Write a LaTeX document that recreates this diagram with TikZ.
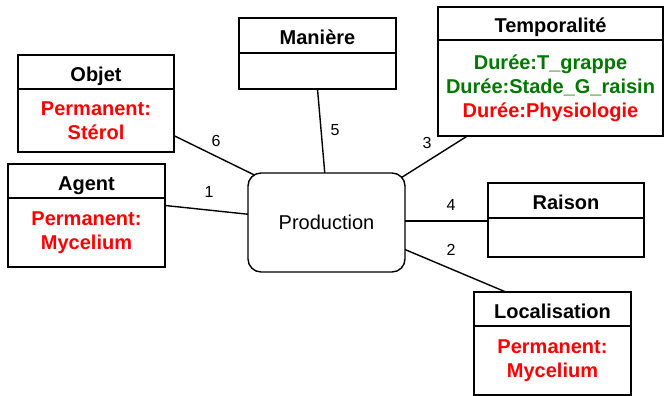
\documentclass[tikz,border=0pt]{standalone}
\usepackage{fontspec}
\setmainfont{Liberation Sans}
\usepackage{xcolor}
\usepackage{tikz}
\usetikzlibrary{positioning}
\definecolor{permred}{RGB}{255,0,0}
\definecolor{dureegreen}{RGB}{0,120,0}
\tikzset{
  box/.style={draw, line width=0.7pt, inner sep=0pt, outer sep=0pt, align=center},
  head/.style={box, text height=10.5pt, text depth=1.2pt, font=\bfseries\fontsize{10}{12}\selectfont},
  body/.style={box, font=\bfseries\fontsize{10}{12}\selectfont},
  link/.style={line width=0.7pt},
  lbl/.style={font=\fontsize{8}{10}\selectfont},
}

\begin{document}
\begin{tikzpicture}[x=0.5pt,y=0.5pt]
\useasboundingbox (0,0) rectangle (664,396);
% roles
\node[head, minimum width=78pt, minimum height=17pt] (objet) at (96,324) {Objet};
\node[body, minimum width=78pt, minimum height=31.5pt, below=0pt of objet, text=permred] (objetb) {Permanent:\\Stérol};
\node[head, minimum width=78.5pt, minimum height=17pt] (agent) at (86.5,215) {Agent};
\node[body, minimum width=78.5pt, minimum height=34.5pt, below=0pt of agent, text=permred] (agentb) {Permanent:\\Mycelium};
\node[head, minimum width=78.5pt, minimum height=17.5pt] (maniere) at (317.5,360.5) {Manière};
\node[body, minimum width=78.5pt, minimum height=18pt, below=0pt of maniere] (maniereb) {};
\node[head, minimum width=112.5pt, minimum height=16.5pt] (temp) at (550.5,372.5) {Temporalité};
\node[body, minimum width=112.5pt, minimum height=48pt, below=0pt of temp] (tempb)
  {\textcolor{dureegreen}{Durée:T\_grappe}\\\textcolor{dureegreen}{Durée:Stade\_G\_raisin}\\\textcolor{permred}{Durée:Physiologie}};
\node[head, minimum width=78pt, minimum height=17.5pt] (raison) at (566,195.5) {Raison};
\node[body, minimum width=78pt, minimum height=19.5pt, below=0pt of raison] (raisonb) {};
\node[head, minimum width=78.5pt, minimum height=17pt] (loc) at (552.5,87) {Localisation};
\node[body, minimum width=78.5pt, minimum height=34.5pt, below=0pt of loc, text=permred] (locb) {Permanent:\\Mycelium};
% process
\node[box, rounded corners=6.5pt, minimum width=78.5pt, minimum height=49.5pt, font=\fontsize{10}{12}\selectfont] (prod) at (326.5,173.5) {Production};
% links
\draw[link, shorten >=-2.5pt] (objetb.-11) -- (prod.147);
\draw[link] (agentb.19) -- (prod.174);
\draw[link] (maniereb.south) -- (prod.92);
\draw[link, shorten <=-2pt] (prod.31) -- (tempb.210);
\draw[link] (prod.1) -- (prod.1 -| raisonb.west);
\draw[link] (prod.-19) -- (loc.160);
% numbers
\node[lbl] (n6) at (216,255) {6};
\node[lbl] (n1) at (209,204) {1};
\node[lbl] (n5) at (335,266) {5};
\node[lbl] (n3) at (427,253) {3};
\node[lbl] (n4) at (451,191) {4};
\node[lbl] (n2) at (451,146) {2};
\end{tikzpicture}
\end{document}
